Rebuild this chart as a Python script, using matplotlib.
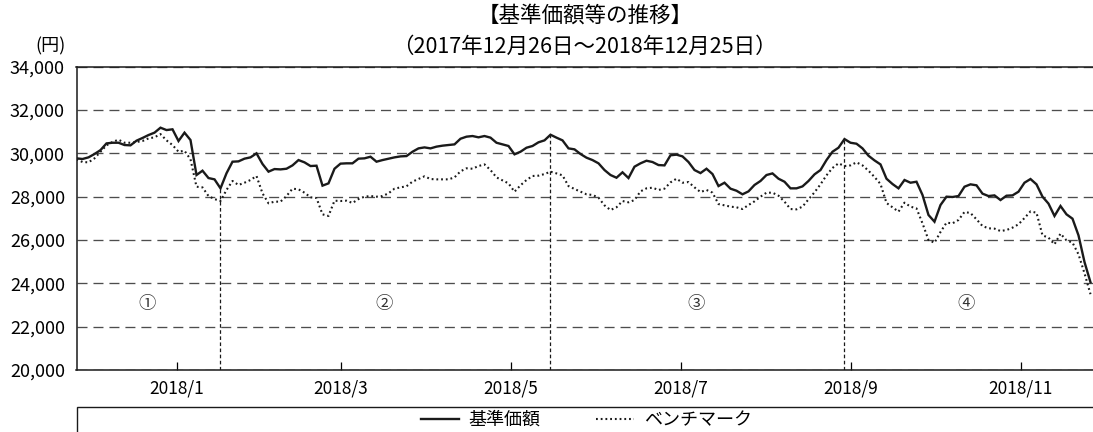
import numpy as np
import pandas as pd
import matplotlib
matplotlib.use("Agg")
import matplotlib.pyplot as plt
import matplotlib.dates as mdates
from matplotlib.patches import Rectangle
from matplotlib.ticker import FuncFormatter

plt.rcParams['font.family'] = ['Noto Sans CJK JP', 'DejaVu Sans']
plt.rcParams['lines.scale_dashes'] = False

# ---------------- data ----------------
start_date = "2017-12-26"
end_date = "2018-12-25"

nav = [  # 基準価額
    29770, 29740, 29815, 29970, 30150, 30460, 30490, 30490, 30385, 30370,
    30585, 30710, 30845, 30955, 31185, 31075, 31110, 30570, 30955, 30615,
    29000, 29200, 28860, 28800, 28385, 29080, 29615, 29630, 29755, 29815,
    30000, 29510, 29155, 29275, 29260, 29290, 29445, 29690, 29585, 29415,
    29430, 28510, 28615, 29290, 29525, 29540, 29540, 29755, 29770, 29845,
    29615, 29690, 29755, 29815, 29860, 29875, 30075, 30230, 30275, 30230,
    30310, 30355, 30385, 30415, 30675, 30770, 30800, 30740, 30800, 30725,
    30490, 30415, 30340, 29955, 30075, 30260, 30340, 30510, 30600, 30860,
    30725, 30600, 30230, 30185, 29970, 29800, 29690, 29540, 29230, 29000,
    28875, 29125, 28860, 29385, 29540, 29660, 29600, 29460, 29445, 29910,
    29940, 29860, 29600, 29230, 29090, 29290, 29045, 28490, 28645, 28370,
    28275, 28110, 28245, 28540, 28725, 29000, 29075, 28830, 28690, 28385,
    28385, 28475, 28725, 29030, 29230, 29690, 30075, 30260, 30660, 30490,
    30445, 30230, 29890, 29675, 29490, 28830, 28585, 28385, 28770, 28645,
    28690, 28080, 27155, 26845, 27615, 28000, 27985, 28030, 28460, 28570,
    28525, 28140, 28030, 28060, 27845, 28045, 28060, 28230, 28645, 28815,
    28570, 28000, 27680, 27110, 27570, 27185, 26985, 26215, 24985, 24050,
]

bench = [  # ベンチマーク
    29725, 29600, 29585, 29770, 30075, 30370, 30525, 30630, 30490, 30490,
    30525, 30570, 30690, 30740, 30890, 30600, 30385, 30075, 30120, 29725,
    28460, 28430, 28030, 27890, 27800, 28310, 28725, 28540, 28645, 28770,
    28955, 28155, 27695, 27770, 27770, 28030, 28370, 28340, 28185, 27970,
    27940, 27185, 27110, 27815, 27800, 27815, 27710, 27890, 28000, 28030,
    28000, 28030, 28155, 28370, 28430, 28480, 28695, 28815, 28940, 28815,
    28800, 28800, 28800, 28890, 29170, 29310, 29290, 29415, 29490, 29230,
    28890, 28755, 28615, 28230, 28525, 28770, 28955, 28970, 29045, 29155,
    29075, 28985, 28490, 28355, 28230, 28110, 28080, 27955, 27600, 27385,
    27510, 27800, 27740, 27845, 28245, 28385, 28415, 28310, 28370, 28660,
    28830, 28645, 28675, 28430, 28215, 28310, 28185, 27660, 27600, 27540,
    27510, 27430, 27615, 27785, 28000, 28185, 28185, 28045, 27770, 27430,
    27415, 27540, 27875, 28200, 28570, 28985, 29325, 29540, 29415, 29445,
    29585, 29445, 29200, 28910, 28585, 27710, 27510, 27310, 27725, 27540,
    27460, 26770, 26000, 25875, 26370, 26800, 26770, 26925, 27295, 27245,
    26955, 26645, 26540, 26525, 26415, 26460, 26570, 26725, 27015, 27320,
    27260, 26215, 26110, 25800, 26295, 25985, 25880, 25340, 24465, 23500,
]

period_breaks = ["2018-02-15", "2018-06-14", "2018-09-27"]
period_labels = ["①", "②", "③", "④"]

tick_dates = ["2018-01-31", "2018-03-31", "2018-05-31",
              "2018-07-31", "2018-09-30", "2018-11-30"]
tick_labels = ["2018/1", "2018/3", "2018/5", "2018/7", "2018/9", "2018/11"]

y_ticks = [20000, 22000, 24000, 26000, 28000, 30000, 32000, 34000]

series_names = ["基準価額", "ベンチマーク"]
title_lines = ["【基準価額等の推移】", "（2017年12月26日～2018年12月25日）"]
unit_label = "(円)"

# ---------------- figure ----------------
W, H = 1093, 432
fig = plt.figure(figsize=(W / 100, H / 100), dpi=100)

left_px, right_px, top_px, bot_px = 76.5, 1093, 66.7, 370
ax = fig.add_axes([left_px / W, 1 - bot_px / H,
                   (right_px - left_px) / W, (bot_px - top_px) / H])

dates = pd.date_range(start_date, end_date, periods=len(nav))
xnum = mdates.date2num(dates.to_pydatetime())

line_nav, = ax.plot(xnum, nav, color='#1a1a1a', lw=1.7, solid_joinstyle='miter',
                    zorder=4)
line_bm, = ax.plot(xnum, bench, color='#1a1a1a', lw=1.5,
                   linestyle=(0, (1.3, 2.1)), zorder=3)

# period separators
brk_num = mdates.date2num(pd.to_datetime(period_breaks).to_pydatetime())
for b in brk_num:
    i = int(np.argmin(np.abs(xnum - b)))
    ax.vlines(xnum[i], y_ticks[0], nav[i], colors='#1a1a1a', lw=0.9,
              linestyles=[(0, (2.6, 1.8))], zorder=2)

# period labels at the middle of each period
bounds = [xnum[0]] + list(brk_num) + [xnum[-1]]
for j, lab in enumerate(period_labels):
    ax.text((bounds[j] + bounds[j + 1]) / 2, 23050, lab, ha='center',
            va='center', fontsize=12.5, color='#333333')

ax.set_ylim(y_ticks[0], y_ticks[-1])
ax.set_xlim(xnum[0], xnum[-1] + 0.9)
ax.set_yticks(y_ticks)
ax.yaxis.set_major_formatter(FuncFormatter(lambda v, p: f"{int(v):,}"))
ax.set_xticks(mdates.date2num(pd.to_datetime(tick_dates).to_pydatetime()))
ax.set_xticklabels(tick_labels)

ax.tick_params(axis='y', length=0, pad=8.3, labelsize=13)
ax.tick_params(axis='x', direction='in', length=5.8, width=0.9, pad=7,
               labelsize=12.5)

ax.yaxis.grid(True, color='#4d4d4d', lw=0.95, linestyle=(0, (7.2, 4.3)))
ax.set_axisbelow(True)

for s in ['left', 'top', 'bottom']:
    ax.spines[s].set_linewidth(1.1)
    ax.spines[s].set_color('#1a1a1a')
ax.spines['right'].set_visible(False)

# titles
cx = (left_px + right_px) / 2 / W
fig.text(cx, 1 - 16 / H, title_lines[0], ha='center', va='center', fontsize=15.5)
fig.text(cx, 1 - 46.5 / H, title_lines[1], ha='center', va='center', fontsize=15.5)
fig.text(50 / W, 1 - 46 / H, unit_label, ha='center', va='center', fontsize=13)

# legend box
fig.add_artist(Rectangle((left_px / W, -0.2), 1.0, (1 - 406.7 / H) + 0.2,
                         transform=fig.transFigure, fill=False,
                         edgecolor='#1a1a1a', lw=1.0, clip_on=False))
fig.legend([line_nav, line_bm], series_names, loc='center',
           bbox_to_anchor=(586.5 / W, 1 - 420 / H), ncol=2, frameon=False,
           fontsize=13, handlelength=2.1, handletextpad=0.55,
           columnspacing=3.1, borderaxespad=0, borderpad=0)

fig.savefig("out.png", dpi=100)
